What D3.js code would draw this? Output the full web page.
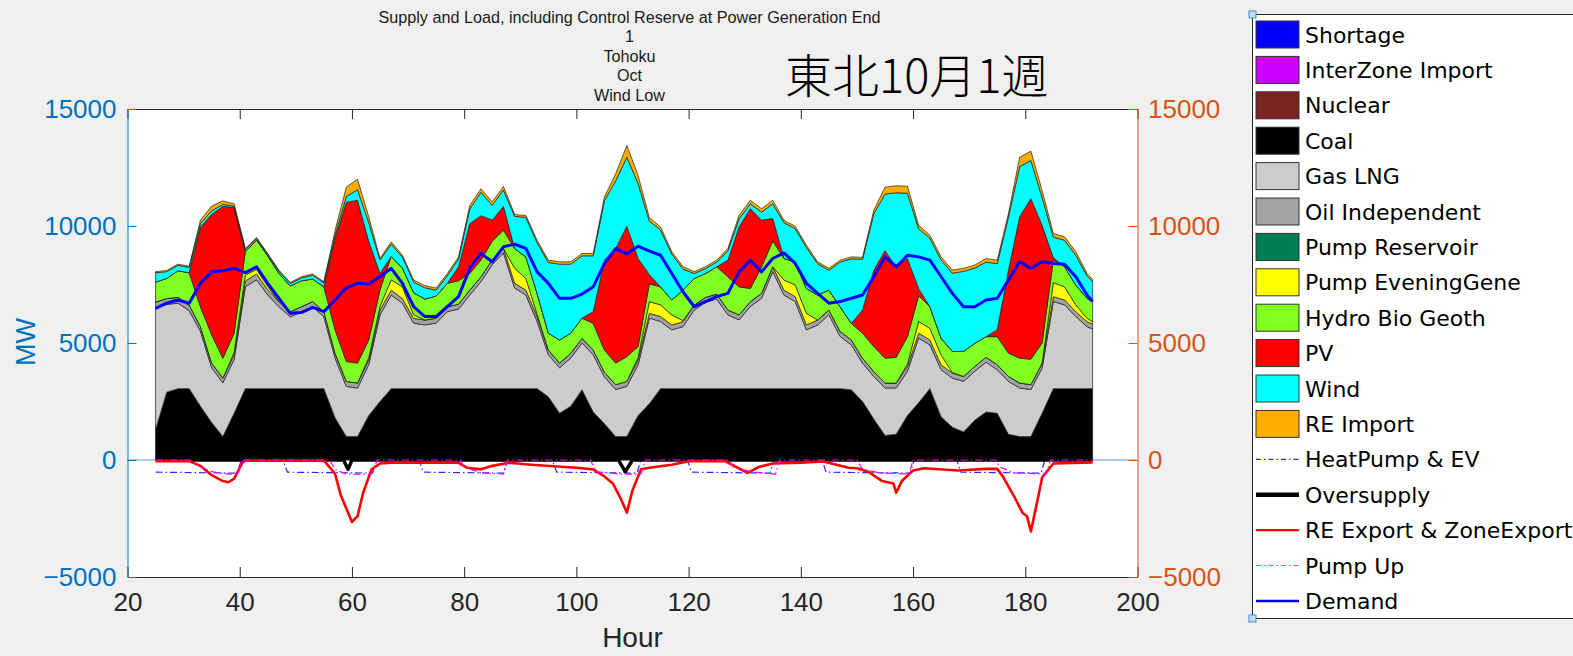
<!DOCTYPE html>
<html>
<head>
<meta charset="utf-8">
<script src="https://cdn.jsdelivr.net/npm/d3@7"></script>
<style>
  body { margin: 0; background: #f0f0f0; }
  svg { display: block; }
</style>
</head>
<body>
<div id="draw_here"></div>
<script>
// ---- data (MW) ----
const hours = [25,27,29,31,33,35,37,39,41,43,45,47,49,51,53,55,57,59,61,63,
  65,67,69,71,73,75,77,79,81,83,85,87,89,91,93,95,97,99,101,103,
  105,107,109,111,113,115,117,119,121,123,125,127,129,131,133,135,137,139,141,143,
  145,147,149,151,153,155,157,159,161,163,165,167,169,171,173,175,177,179,181,183,
  185,187,189,191,192]

const coal = [1300,2900,3050,3050,2300,1600,1000,2000,3050,3050,
  3050,3050,3050,3050,3050,3050,1800,1000,1000,1900,
  2500,3050,3050,3050,3050,3050,3050,3050,3050,3050,
  3050,3050,3050,3050,3050,2700,2000,2300,3000,2050,
  1550,1000,1000,1900,2400,3050,3050,3050,3050,3050,
  3050,3050,3050,3050,3050,3050,3050,3050,3050,3050,
  3050,3050,3000,2500,1750,1050,1100,1900,2450,3050,
  1850,1400,1200,1700,2050,2000,1100,1000,1000,2000,
  3050,3050,3050,3050,3050]

const gas = [5200,3750,3650,3330,3200,2340,2300,2300,4350,4650,
  4000,3500,3070,3280,3500,3070,2550,2145,2075,2180,
  3700,4000,3650,2800,2720,2800,3290,3400,4000,4570,
  5300,5800,4300,4000,2870,1800,1940,2060,2000,2450,
  2000,2010,2150,2170,3660,2870,2510,2650,3360,3690,
  3830,3150,2940,3510,3860,5000,4000,3720,2510,2720,
  3150,2230,1920,1640,1820,2030,1980,1890,2760,1870,
  2010,2100,2160,2090,2130,1860,2260,2080,2010,1930,
  3720,3580,3080,2650,2550]

const oil = [250,250,250,240,200,200,200,200,250,250,
  220,220,220,220,220,220,210,215,215,200,
  220,200,200,200,210,210,210,210,210,210,
  200,200,200,210,210,200,200,200,200,200,
  200,210,210,210,210,210,210,210,210,210,
  210,210,210,210,210,210,210,210,210,210,
  210,210,210,210,210,210,210,210,210,210,
  210,210,210,210,210,210,210,210,210,210,
  210,210,210,210,210]

const pumpEvening = [0,0,0,0,0,0,0,100,250,200,
  150,0,0,0,0,0,0,0,0,100,
  150,450,500,150,0,0,0,0,0,0,
  0,0,640,500,100,0,0,0,0,0,
  0,0,0,100,500,500,430,50,0,0,
  0,0,0,0,0,0,430,500,500,0,
  0,0,0,0,0,0,0,100,500,500,
  420,30,0,0,0,0,0,0,0,0,
  600,560,290,150,100]

const hydro = [850,860,1140,1380,850,1210,850,820,1000,1250,
  1300,1200,1100,1110,965,1065,1000,850,850,750,
  700,1000,800,950,900,950,1000,1000,710,710,
  800,770,850,920,890,720,990,860,860,1140,
  950,920,1060,470,760,770,640,1300,1140,1020,
  1170,1420,1200,560,1130,1100,920,990,1060,1070,
  850,1060,710,1070,1070,1060,1100,1170,1100,920,
  710,900,1070,990,880,1200,1000,1060,1090,860,
  960,860,850,850,860]

const pv = [0,0,0,0,3400,5150,6490,5370,0,0,
  0,0,0,0,0,0,3920,6800,6960,4210,
  700,0,0,0,0,0,0,600,2130,1900,
  900,1020,0,0,0,0,0,0,0,500,
  3840,4900,5570,3760,400,0,0,0,0,0,
  0,710,2560,3410,2000,960,0,0,0,0,
  0,0,0,990,3260,4590,3860,3340,300,0,
  0,0,0,0,0,300,3540,6040,6860,5030,
  100,0,0,0,0]

const wind = [400,290,230,230,150,150,80,60,80,60,
  60,90,100,120,160,165,140,250,450,800,
  580,520,470,450,480,250,330,330,630,1000,
  630,700,1370,1690,2170,3020,3240,2950,2665,2385,
  2550,2890,2950,3200,2280,2430,1960,900,210,210,
  200,400,350,210,340,630,1530,1420,1750,1340,
  850,1910,2760,2170,2410,2420,3170,2790,2560,2930,
  3350,3345,3420,3210,3190,2820,2270,2150,1630,1190,
  890,1130,1270,960,850]

const reImport = [50,50,50,50,150,200,150,100,60,50,
  45,50,50,50,50,50,200,400,450,250,
  60,100,80,90,90,90,90,90,150,150,
  150,150,80,80,100,100,100,100,100,100,
  150,300,500,350,150,130,100,100,80,80,
  80,100,150,150,150,150,100,100,100,80,
  80,80,80,80,150,300,300,300,150,130,
  130,130,130,130,150,150,150,400,400,300,
  150,150,150,100,100]

const demand = [6480,6700,6840,6700,7550,8040,8090,8190,8010,8260,
  7550,6910,6270,6300,6520,6340,6840,7360,7550,7520,
  7830,8190,7550,6550,6130,6130,6550,6980,8190,8825,
  8470,9110,9220,9040,8040,7550,6910,6910,7090,7400,
  8400,9040,8800,9140,8930,8750,7970,7190,6550,6770,
  6980,7120,8040,8540,8040,8610,8850,8400,7550,7120,
  6700,6770,6910,7050,7830,8680,8260,8750,8680,8540,
  7830,7120,6550,6550,6840,6910,7690,8470,8190,8470,
  8400,8370,7830,7050,6770]

// lines below zero, each with its own hour points
const heatHours = [25,39.5,40.3,47.7,48.5,63.7,64.5,72,72.7,87,87.8,95.7,96.5,110.8,111.5,119.8,
  120.5,134.5,135.3,143.8,144.5,159.5,160.2,167.8,168.5,182.8,183.5,192]
const heatVals = [-520,-560,0,0,-520,-560,0,0,-520,-560,0,0,-520,-560,0,0,
  -520,-560,0,0,-520,-560,0,0,-520,-560,0,0]

const overHours = [25,58.5,59.3,60,107.5,108.7,110,192]
const overVals = [0,0,-400,0,0,-500,0,0]

const exportHours = [25,31,33,35,37,38,39,40.5,41,55,56,57,58,60,61,62,63.5,65,
  67,79,80.5,83,85,88,92,96,100,103,105,106.5,
  108,109,110,111.5,113,117,120,126.5,128.5,130.5,132.5,135,140,144,148.5,
  150,152,154.5,156.5,157,158,160,162,168,173,175,176,178,179.5,180.3,181,182.2,183,185,192]
const exportVals = [-50,-50,-250,-650,-900,-950,-800,-100,-30,-30,-300,-600,-1500,-2650,-2400,-1400,-400,-150,
  -120,-120,-330,-400,-250,-120,-200,-270,-330,-400,-700,-1000,
  -1700,-2250,-1300,-400,-330,-200,-50,-50,-300,-550,-300,-150,-120,-60,-330,
  -350,-500,-900,-1000,-1400,-900,-450,-350,-450,-380,-380,-700,-1550,-2250,-2400,-3050,-1700,-750,-150,-100]

const pumpHours = [25,31,33,35,38,39.7,40.5,56,57,59,63.5,64.5,79.3,80,83,87,87.7,102.5,103.5,108,111.5,112.3,
  127,128,131,135.5,136.2,150,151,154,159.3,160,174.7,175.5,178,183.7,184.5,192]
const pumpVals = [0,0,-300,-500,-600,-600,0,0,-400,-600,-600,0,0,-300,-550,-600,0,0,-500,-600,-600,0,
  0,-300,-500,-600,0,0,-400,-550,-600,0,0,-300,-550,-600,0,0]

const xTicks = [20,40,60,80,100,120,140,160,180,200]
const yTicks = [-5000,0,5000,10000,15000]

const titleLines = ["Supply and Load, including Control Reserve at Power Generation End", "1", "Tohoku", "Oct", "Wind Low"]

// ---- layout ----
canvas = ({width: 1573, height: 656})
plot = ({left: 127.5, right: 1137.5, top: 109, bottom: 577})
font = "'Liberation Sans', Arial, Helvetica, sans-serif"
blueAx = "#0072BD"
orangeAx = "#D95319"

const layers = [
  {key: "coal", name: "Coal", color: "#000000", values: coal},
  {key: "gas", name: "Gas LNG", color: "#cccccc", values: gas},
  {key: "oil", name: "Oil Independent", color: "#a3a3a3", values: oil},
  {key: "pumpEvening", name: "Pump EveningGene", color: "#ffff00", values: pumpEvening},
  {key: "hydro", name: "Hydro Bio Geoth", color: "#80ff20", values: hydro},
  {key: "pv", name: "PV", color: "#ff0000", values: pv},
  {key: "wind", name: "Wind", color: "#00ffff", values: wind},
  {key: "reImport", name: "RE Import", color: "#ffad00", values: reImport}
]

x = d3.scaleLinear().domain([20, 200]).range([plot.left, plot.right])
y = d3.scaleLinear().domain([-5000, 15000]).range([plot.bottom, plot.top])

var svg = d3.select("div#draw_here").append("svg")
    .attr("width", canvas.width)
    .attr("height", canvas.height)
    .attr("viewBox", [0, 0, canvas.width, canvas.height])

svg.append("rect")
    .attr("x", plot.left).attr("y", plot.top)
    .attr("width", plot.right - plot.left).attr("height", plot.bottom - plot.top)
    .attr("fill", "#ffffff")

// zero line
svg.append("line")
    .attr("x1", plot.left).attr("x2", plot.right)
    .attr("y1", y(0)).attr("y2", y(0))
    .attr("stroke", "#4da3dd").attr("stroke-width", 1.2)

// stacked areas
rows = hours.map((h, i) => {
    const r = {hour: h}
    layers.forEach(l => r[l.key] = l.values[i])
    return r
})
series = d3.stack().keys(layers.map(l => l.key))(rows)

area = d3.area()
    .x(d => x(d.data.hour))
    .y0(d => y(d[0]))
    .y1(d => y(d[1]))

svg.append("g")
    .selectAll("path")
    .data(series)
    .join("path")
    .attr("fill", (d, i) => layers[i].color)
    .attr("stroke", "#1e1e1e")
    .attr("stroke-width", 0.7)
    .attr("stroke-linejoin", "round")
    .attr("d", area)

// lines
line = d3.line()
    .x(d => x(d[0]))
    .y(d => y(d[1]))

function drawLine(hs, vs, color, width, dash) {
    svg.append("path")
        .attr("fill", "none")
        .attr("stroke", color)
        .attr("stroke-width", width)
        .attr("stroke-dasharray", dash)
        .attr("stroke-linejoin", "round")
        .attr("d", line(d3.zip(hs, vs)))
}

drawLine(heatHours, heatVals, "#2525ff", 1.2, "7,3,1.5,3")
drawLine(overHours, overVals, "#000000", 3.5, null)
drawLine(exportHours, exportVals, "#ff0000", 2.6, null)
drawLine(pumpHours, pumpVals, "#ff00ff", 1.2, "7,3,1.5,3")
drawLine(hours, demand, "#0000ff", 3, null)

// axes
const fmt = d3.format("d")

var axBottom = svg.append("g")
    .attr("transform", `translate(0,${plot.bottom})`)
    .call(d3.axisBottom(x).tickValues(xTicks).tickSizeInner(-10).tickSizeOuter(0).tickPadding(16))
var axTop = svg.append("g")
    .attr("transform", `translate(0,${plot.top})`)
    .call(d3.axisTop(x).tickValues(xTicks).tickSizeInner(-10).tickSizeOuter(0).tickFormat(""))
var axLeft = svg.append("g")
    .attr("transform", `translate(${plot.left},0)`)
    .call(d3.axisLeft(y).tickValues(yTicks).tickSizeInner(-9).tickSizeOuter(0).tickPadding(11).tickFormat(fmt))
var axRight = svg.append("g")
    .attr("transform", `translate(${plot.right},0)`)
    .call(d3.axisRight(y).tickValues(yTicks).tickSizeInner(-9).tickSizeOuter(0).tickPadding(10.5).tickFormat(fmt))

;[[axBottom, "#262626"], [axTop, "#262626"], [axLeft, blueAx], [axRight, orangeAx]].forEach(([g, c]) => {
    g.select(".domain").attr("stroke", c).attr("stroke-width", 1)
    g.selectAll(".tick line").attr("stroke", c).attr("stroke-width", 1)
    g.selectAll(".tick text").attr("fill", c).style("font-family", font).style("font-size", "26px")
})

svg.append("text")
    .attr("x", (plot.left + plot.right) / 2).attr("y", 647)
    .attr("text-anchor", "middle")
    .style("font-family", font).style("font-size", "28px").attr("fill", "#262626")
    .text("Hour")

svg.append("text")
    .attr("transform", "translate(35,342) rotate(-90)")
    .attr("text-anchor", "middle")
    .style("font-family", font).style("font-size", "27px").attr("fill", blueAx)
    .text("MW")

// title block
svg.append("g")
    .selectAll("text")
    .data(titleLines)
    .join("text")
    .attr("x", (plot.left + plot.right) / 2 - 3)
    .attr("y", (d, i) => 22.5 + i * 19.6)
    .attr("text-anchor", "middle")
    .style("font-family", font).style("font-size", "16.2px").attr("fill", "#1a1a1a")
    .text(d => d)

svg.append("text")
    .attr("x", 785).attr("y", 93)
    .style("font-family", "'Noto Sans CJK JP', 'Noto Sans CJK SC', sans-serif")
    .style("font-weight", 300)
    .style("font-size", "47px").attr("fill", "#000")
    .text("東北10月1週")

// legend
const legendItems = [
    {name: "Shortage", type: "patch", color: "#0000ff"},
    {name: "InterZone Import", type: "patch", color: "#cc00ff"},
    {name: "Nuclear", type: "patch", color: "#7b2424"},
    ...layers.slice(0, 3).map(l => ({name: l.name, type: "patch", color: l.color})),
    {name: "Pump Reservoir", type: "patch", color: "#007f55"},
    ...layers.slice(3).map(l => ({name: l.name, type: "patch", color: l.color})),
    {name: "HeatPump & EV", type: "line", color: "#2525ff", width: 1.2, dash: "5,3,1.5,3"},
    {name: "Oversupply", type: "line", color: "#000000", width: 4.5},
    {name: "RE Export & ZoneExport", type: "line", color: "#ff0000", width: 2.2},
    {name: "Pump Up", type: "line", color: "#ff33ff", width: 1.2, dash: "5,3,1.5,3"},
    {name: "Demand", type: "line", color: "#0000ff", width: 2.5}
]

var legend = svg.append("g")
legend.append("rect")
    .attr("x", 1252.5).attr("y", 14.5).attr("width", 400).attr("height", 604)
    .attr("fill", "#ffffff").attr("stroke", "#262626").attr("stroke-width", 1)

const rowY = i => 34.5 + i * 35.4

legendItems.forEach((it, i) => {
    const cy = rowY(i)
    if (it.type === "patch") {
        legend.append("rect")
            .attr("x", 1256).attr("y", cy - 13.5).attr("width", 43).attr("height", 27)
            .attr("fill", it.color).attr("stroke", "#333").attr("stroke-width", 1)
    } else {
        legend.append("line")
            .attr("x1", 1256).attr("x2", 1299).attr("y1", cy).attr("y2", cy)
            .attr("stroke", it.color).attr("stroke-width", it.width)
            .attr("stroke-dasharray", it.dash || null)
    }
    legend.append("text")
        .attr("x", 1305).attr("y", cy + 8)
        .style("font-family", "'DejaVu Sans', sans-serif").style("font-size", "22px")
        .attr("fill", "#000")
        .text(it.name)
})

// selection handles on the legend box
;[14.5, 618.5].forEach(yy => {
    legend.append("rect")
        .attr("x", 1252.5 - 3.5).attr("y", yy - 3.5).attr("width", 7).attr("height", 7)
        .attr("fill", "#c6def3").attr("stroke", "#3d8fd6").attr("stroke-width", 1)
})
</script>
</body>
</html>
